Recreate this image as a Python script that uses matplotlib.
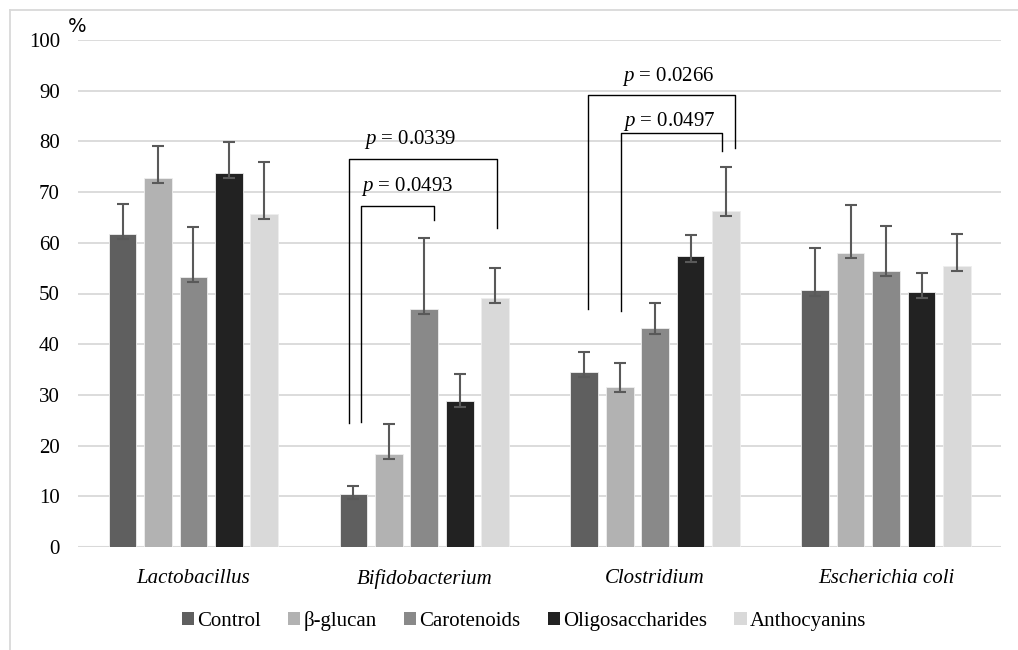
import matplotlib
matplotlib.use("Agg")
import matplotlib.pyplot as plt
import numpy as np
from matplotlib.patches import Rectangle
from matplotlib.lines import Line2D

categories = ["Lactobacillus", "Bifidobacterium", "Clostridium", "Escherichia coli"]
series_names = ["Control", "β-glucan", "Carotenoids", "Oligosaccharides", "Anthocyanins"]
colors = ["#5f5f5f", "#b2b2b2", "#898989", "#222222", "#d9d9d9"]

control = [61.7, 10.5, 34.5, 50.6]
bglucan = [72.8, 18.3, 31.5, 58.0]
carotenoids = [53.3, 46.9, 43.1, 54.4]
oligo = [73.7, 28.7, 57.3, 50.2]
antho = [65.6, 49.1, 66.2, 55.4]

control_up = [67.6, 12.0, 38.4, 58.9]
bglucan_up = [79.1, 24.2, 36.2, 67.4]
carotenoids_up = [63.2, 61.0, 48.1, 63.3]
oligo_up = [79.8, 34.1, 61.6, 54.1]
antho_up = [75.9, 55.1, 74.9, 61.7]

lower_err = 1.0

yticks = [0, 10, 20, 30, 40, 50, 60, 70, 80, 90, 100]

# significance brackets: (x left, x right, top, left leg bottom, right leg bottom, label, label x, label y)
brackets = [
    (0.675, 1.315, 76.5, 24.4, 63.0, "0.0339", 0.939, 80.3),
    (0.725, 1.043, 67.3, 24.6, 64.5, "0.0493", 0.926, 71.1),
    (1.709, 2.345, 89.2, 47.0, 78.6, "0.0266", 2.057, 92.8),
    (1.854, 2.290, 81.7, 46.6, 78.2, "0.0497", 2.062, 83.9),
]

values = [control, bglucan, carotenoids, oligo, antho]
uppers = [control_up, bglucan_up, carotenoids_up, oligo_up, antho_up]

plt.rcParams['font.family'] = ['Liberation Serif', 'DejaVu Serif']
plt.rcParams['mathtext.fontset'] = 'custom'
plt.rcParams['mathtext.it'] = 'Liberation Serif:italic'
plt.rcParams['mathtext.rm'] = 'Liberation Serif'
FS = 15

fig = plt.figure(figsize=(10.18, 6.5), dpi=100)
ax = fig.add_axes([78/1018, 1 - 547/650, (1001.5 - 78)/1018, (547 - 40)/650])

x = np.arange(len(categories))
pitch = 0.1535
width = 0.12
for i, (vals, ups) in enumerate(zip(values, uppers)):
    xs = x + (i - 2) * pitch
    ax.bar(xs, vals, width=width, color=colors[i], edgecolor="#eeeeee", linewidth=0.6,
           zorder=2, label=series_names[i])
    yerr = np.array([[lower_err] * len(vals), np.array(ups) - np.array(vals)])
    ax.errorbar(xs, vals, yerr=yerr, fmt='none', ecolor="#595959", elinewidth=1.5,
                capsize=4.2, capthick=1.5, zorder=3)

ax.set_xlim(-0.5, len(categories) - 0.5)
ax.set_ylim(0, 100)
ax.set_yticks(yticks)
ax.set_yticklabels([str(t) for t in yticks], fontsize=FS)
ax.set_xticks(x)
ax.set_xticklabels(categories, fontsize=FS, style='italic')
ax.tick_params(axis='both', length=0)
ax.tick_params(axis='y', pad=13)
ax.tick_params(axis='x', pad=16)
ax.grid(axis='y', color="#d9d9d9", linewidth=1.3, zorder=0)
ax.set_axisbelow(True)
for s in ax.spines.values():
    s.set_visible(False)
ax.axhline(0, color="#d9d9d9", linewidth=1.5, zorder=1)

for xl, xr, top, lb, rb, lab, lx, ly in brackets:
    ax.plot([xl, xl, xr, xr], [lb, top, top, rb], color="black", linewidth=1.0, zorder=4,
            clip_on=False)
    ax.text(lx, ly, "$\\it{p}$ = " + lab, ha='center', va='center',
            fontsize=FS, zorder=5)

fig.text(68/1018, 1 - 27/650, "%", fontsize=14, family='DejaVu Sans', ha='left', va='center')

# chart frame (top and left borders)
fig.add_artist(Line2D([10/1018, 10/1018], [0, 1 - 10/650], transform=fig.transFigure,
                      color="#d9d9d9", linewidth=1.3))
fig.add_artist(Line2D([10/1018, 1], [1 - 10/650, 1 - 10/650], transform=fig.transFigure,
                      color="#d9d9d9", linewidth=1.3))

handles = [Rectangle((0, 0), 1, 1, facecolor=c, edgecolor='none') for c in colors]
fig.legend(handles, series_names, loc='center', bbox_to_anchor=(524/1018, 1 - 621/650),
           ncol=5, frameon=False, fontsize=FS, handlelength=0.6, handleheight=0.6,
           handletextpad=0.15, columnspacing=1.3)

fig.savefig("out.png", dpi=100)
